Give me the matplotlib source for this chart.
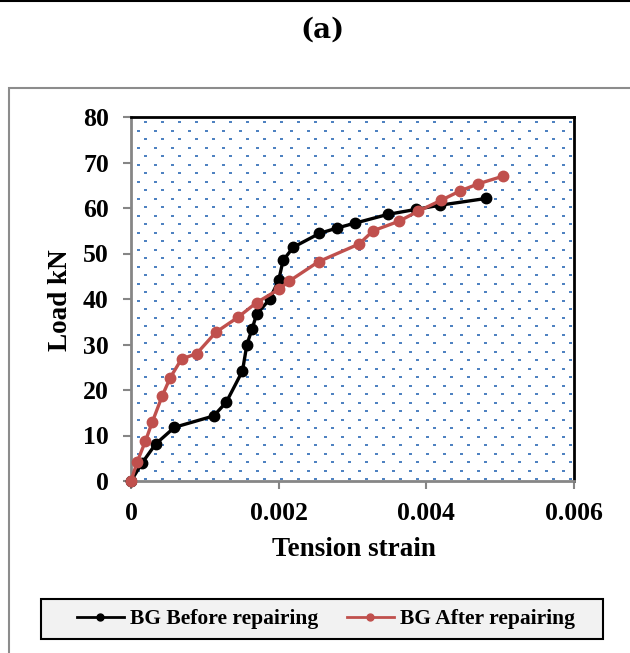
import numpy as np
import matplotlib
matplotlib.use("Agg")
import matplotlib.pyplot as plt
from matplotlib.patches import Rectangle
from matplotlib.lines import Line2D

# Measured load-strain response
before_strain = [0, 0.000152, 0.000332, 0.000589, 0.00112, 0.00129, 0.00151, 0.00157,
                 0.00164, 0.0017, 0.00188, 0.0020, 0.00206, 0.0022, 0.00255, 0.00279,
                 0.00304, 0.00348, 0.00386, 0.00418, 0.00481]
before_load = [0, 4.0, 8.1, 11.8, 14.3, 17.3, 24.2, 30.0, 33.4, 36.6, 40.0, 44.1,
               48.5, 51.4, 54.4, 55.6, 56.7, 58.6, 59.7, 60.6, 62.1]

after_strain = [0, 0.000084, 0.000196, 0.000287, 0.000423, 0.000531, 0.000684, 0.00089,
                0.00115, 0.00145, 0.0017, 0.0020, 0.00214, 0.00254, 0.00309, 0.00328,
                0.00363, 0.00389, 0.0042, 0.00445, 0.0047, 0.00504]
after_load = [0, 4.2, 8.8, 12.9, 18.7, 22.7, 26.8, 28.0, 32.7, 36.0, 39.2, 42.1, 43.9,
              48.2, 52.1, 55.0, 57.1, 59.3, 61.7, 63.7, 65.3, 67.0]

x_ticks = [0, 0.002, 0.004, 0.006]
x_tick_labels = ["0", "0.002", "0.004", "0.006"]
y_ticks = [0, 10, 20, 30, 40, 50, 60, 70, 80]
y_tick_labels = ["0", "10", "20", "30", "40", "50", "60", "70", "80"]

series_names = ["BG Before repairing", "BG After repairing"]

W, H = 630, 653
DPI = 100
fig = plt.figure(figsize=(W / DPI, H / DPI), dpi=DPI)
fig.patch.set_facecolor("white")

serif = ["Liberation Serif", "DejaVu Serif"]

# plot area in whole pixels
ax_l, ax_r, ax_t, ax_b = 131, 574, 117, 481
ax = fig.add_axes([ax_l / W, (H - ax_b) / H, (ax_r - ax_l) / W, (ax_b - ax_t) / H])
ax.set_facecolor("none")

# dotted pattern fill behind the plot area, placed pixel for pixel
pw, ph = ax_r - ax_l, ax_b - ax_t
tex = np.ones((ph, pw, 4))
dot = np.array([0.31, 0.51, 0.76, 1.0])
for (x0, y0) in [(14, 5), (7, 14)]:
    for yc in range(y0, ph, 17):
        for xc in range(x0, pw, 17):
            tex[yc - 1:yc + 1, xc - 1:xc + 2] = dot
fig.figimage(tex, xo=ax_l, yo=H - ax_b, origin="upper", zorder=-1)

ax.plot(before_strain, before_load, color="black", lw=2.4, marker="o", ms=7.5,
        clip_on=False, zorder=2)
ax.plot(after_strain, after_load, color="#C0504D", lw=2.4, marker="o", ms=7.5,
        clip_on=False, zorder=3)

ax.set_xlim(0, 0.006)
ax.set_ylim(0, 80)
ax.set_xticks(x_ticks)
ax.set_xticklabels(x_tick_labels)
ax.set_yticks(y_ticks)
ax.set_yticklabels(y_tick_labels)

for lab in ax.get_xticklabels() + ax.get_yticklabels():
    lab.set_fontfamily(serif)
    lab.set_fontweight("bold")
    lab.set_fontsize(18.5)

ax.tick_params(axis="both", direction="out", length=6, width=1.5, color="#868686")
ax.tick_params(axis="y", pad=10)
ax.tick_params(axis="x", pad=9)

for s in ["left", "bottom"]:
    ax.spines[s].set_color("#868686")
    ax.spines[s].set_linewidth(2.0)
    ax.spines[s].set_zorder(2.5)
for s in ["top", "right"]:
    ax.spines[s].set_color("black")
    ax.spines[s].set_linewidth(2.0)

ax.set_xlabel("Tension strain", fontfamily=serif, fontweight="bold", fontsize=19.5)
ax.xaxis.label.set_va("center")
ax.xaxis.set_label_coords((354 - ax_l) / (ax_r - ax_l), (ax_b - 550) / (ax_b - ax_t))
ax.set_ylabel("Load kN", fontfamily=serif, fontweight="bold", fontsize=19.5)
ax.yaxis.label.set_va("center")
ax.yaxis.set_label_coords((61 - ax_l) / (ax_r - ax_l), (ax_b - 300) / (ax_b - ax_t))

# title
fig.text(322 / W, 1 - 30 / H, "(a)", ha="center", va="center",
         fontfamily=["DejaVu Serif"], fontweight="bold", fontsize=20)

# top rule and chart frame
fig.add_artist(Line2D([0, 1], [1 - 0.5 / H, 1 - 0.5 / H], transform=fig.transFigure,
                      color="black", lw=1.5))
fig.add_artist(Rectangle((9 / W, -0.05), 1.2, (H - 88) / H + 0.05, transform=fig.transFigure,
                         fill=False, edgecolor="#8c8c8c", lw=1.5))

# legend box
fig.add_artist(Rectangle((41 / W, 1 - 639 / H), (603 - 41) / W, 40 / H,
                         transform=fig.transFigure, facecolor="#f2f2f2",
                         edgecolor="black", lw=1.5, zorder=4))
handles = [Line2D([], [], color="black", lw=2.0, marker="o", ms=5),
           Line2D([], [], color="#C0504D", lw=2.0, marker="o", ms=5)]
leg = fig.legend(handles, series_names, loc="center", ncol=2,
                 bbox_to_anchor=(326 / W, 1 - 619 / H),
                 prop={"family": serif, "weight": "bold", "size": 15.5},
                 frameon=False, handlelength=2.2, handletextpad=0.3, columnspacing=1.3,
                 borderpad=0.0, borderaxespad=0)
leg.set_zorder(5)

fig.savefig("out.png", dpi=DPI)
